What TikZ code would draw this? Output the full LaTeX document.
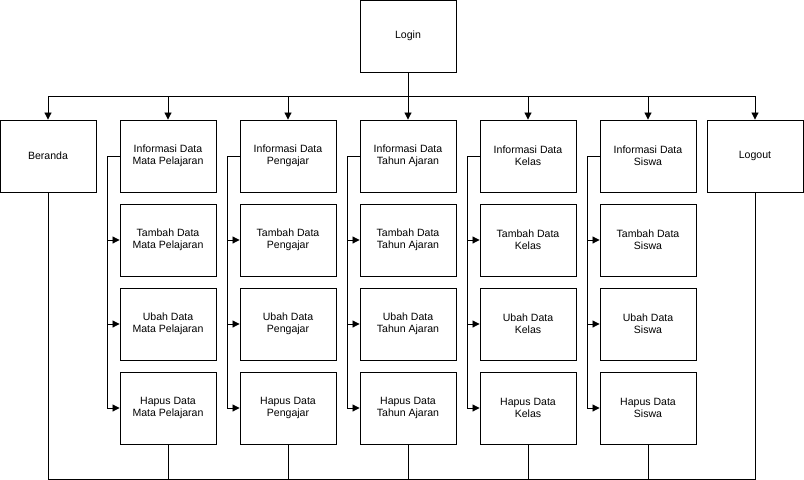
\documentclass[tikz,border=0pt]{standalone}
\usepackage{fontspec}
\setmainfont{Liberation Sans}
\usetikzlibrary{arrows.meta}
\tikzset{
	box/.style={draw, line width=0.6pt, minimum width=2.4cm, minimum height=1.8cm, inner sep=0pt, align=center, font=\fontsize{7.5}{8.8}\selectfont},
	link/.style={line width=0.6pt},
	arr/.style={link, -{Triangle[length=5pt,width=5pt]}}
}

\begin{document}
\begin{tikzpicture}[x=0.025cm, y=-0.025cm]
		%%%%% START %%%%%
		\useasboundingbox (0, 0) rectangle (804, 480);
		
		\node[box] (login) at (408, 36) {Login};
		\node[box] (beranda) at (48, 156) {Beranda};
		\node[box] (logout) at (755, 156) {Logout};
		
		\draw[link] (login.south) -- ++(0, 24) coordinate (bus);
		\draw[link] (beranda.north |- bus) -- (logout.north |- bus);
		\draw[arr] (beranda.north |- bus) -- (beranda.north);
		\draw[arr] (logout.north |- bus) -- (logout.north);
		
		\coordinate (base) at (0, 479);
		\draw[link] (beranda.south) -- (beranda.south |- base) -- (logout.south |- base) -- (logout.south);
		
		\foreach \x/\n/\t in {168/mapel/Mata Pelajaran, 288/guru/Pengajar, 408/tahun/Tahun Ajaran, 528/kelas/Kelas, 648/siswa/Siswa} {
			\node[box] (info\n) at (\x, 156) {Informasi Data\\\t};
			\node[box] (tambah\n) at (\x, 240) {Tambah Data\\\t};
			\node[box] (ubah\n) at (\x, 324) {Ubah Data\\\t};
			\node[box] (hapus\n) at (\x, 408) {Hapus Data\\\t};
			
			\draw[arr] (info\n.north |- bus) -- (info\n.north);
			\draw[arr] (info\n.west) -- ++(-12, 0) |- (tambah\n.west);
			\draw[arr] (info\n.west) -- ++(-12, 0) |- (ubah\n.west);
			\draw[arr] (info\n.west) -- ++(-12, 0) |- (hapus\n.west);
			\draw[link] (hapus\n.south) -- (hapus\n.south |- base);
		}
		%%%%% END %%%%%
	\end{tikzpicture}
\end{document}
